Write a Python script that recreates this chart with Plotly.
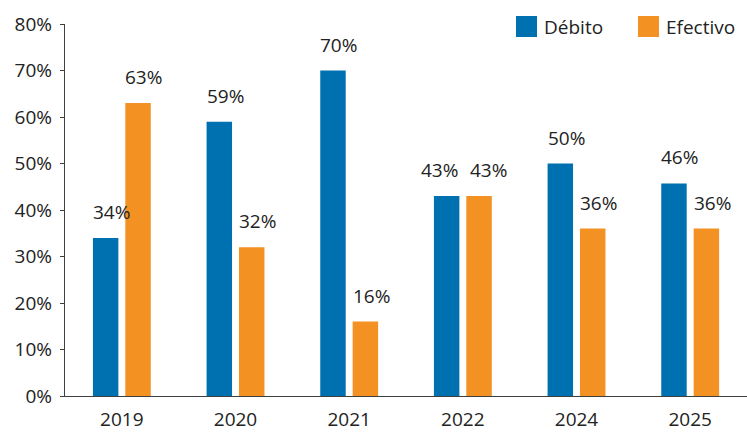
import plotly.graph_objects as go

years = ["2019", "2020", "2021", "2022", "2024", "2025"]
debito = [34, 59, 70, 43, 50, 46]
efectivo = [63, 32, 16, 43, 36, 36]
debito_bar = [34, 59, 70, 43, 50, 45.7]
efectivo_bar = [63, 32, 16, 43, 36, 36]
series_names = ["Débito", "Efectivo"]

BLUE = "#0071B0"
ORANGE = "#F39122"
TXT = "#222222"
FONT = "Open Sans"
FS = 19

xs = list(range(len(years)))
W = 0.224
OFF_B = -0.2544
OFF_O = 0.0307

fig = go.Figure()
fig.add_bar(x=xs, y=debito_bar, width=W, offset=OFF_B, marker=dict(color=BLUE, line=dict(width=0)),
            name=series_names[0], showlegend=False, hoverinfo="skip")
fig.add_bar(x=xs, y=efectivo_bar, width=W, offset=OFF_O, marker=dict(color=ORANGE, line=dict(width=0)),
            name=series_names[1], showlegend=False, hoverinfo="skip")

shift_b = {3: -13}
shift_o = {3: 4}
ann = []
for i in xs:
    ann.append(dict(x=i + OFF_B, y=debito_bar[i], text=f"{debito[i]}%", xref="x", yref="y",
                    xanchor="left", yanchor="middle", showarrow=False,
                    xshift=-2 + shift_b.get(i, 0), yshift=26,
                    font=dict(family=FONT, size=FS, color=TXT)))
    ann.append(dict(x=i + OFF_O, y=efectivo_bar[i], text=f"{efectivo[i]}%", xref="x", yref="y",
                    xanchor="left", yanchor="middle", showarrow=False,
                    xshift=-2 + shift_o.get(i, 0), yshift=26,
                    font=dict(family=FONT, size=FS, color=TXT)))

# manual legend (paper coordinates), pixel layout: plot x 65..747, y 24..396
PL, PW, PT, PH = 65, 682, 24, 372
def px(x):
    return (x - PL) / PW
def py(y):
    return 1 - (y - PT) / PH

shapes = []
for (x0, name, col) in [(516, series_names[0], BLUE), (638, series_names[1], ORANGE)]:
    shapes.append(dict(type="rect", xref="paper", yref="paper",
                       x0=px(x0), x1=px(x0 + 21), y0=py(37), y1=py(16),
                       fillcolor=col, line=dict(width=0)))
    ann.append(dict(x=px(x0 + 26), y=py(27), xref="paper", yref="paper", text=name,
                    xanchor="left", yanchor="middle", showarrow=False,
                    font=dict(family=FONT, size=FS, color=TXT)))

fig.update_layout(
    width=747, height=433,
    margin=dict(l=65, r=0, t=24, b=37),
    barmode="overlay",
    plot_bgcolor="white", paper_bgcolor="white",
    font=dict(family=FONT, size=FS, color=TXT),
    annotations=ann, shapes=shapes,
    showlegend=False,
)
fig.update_xaxes(range=[-0.5, 5.5], tickvals=xs, ticktext=years, showgrid=False, automargin=False,
                 showline=True, linecolor="#404040", linewidth=1.3, ticks="", zeroline=False,
                 ticklabelstandoff=6,
                 tickfont=dict(family=FONT, size=FS, color=TXT))
fig.update_yaxes(range=[0, 80], dtick=10, ticksuffix="%", showgrid=False, zeroline=False, automargin=False,
                 showline=True, linecolor="#404040", linewidth=1.3, ticks="outside", ticklen=4,
                 ticklabelstandoff=4,
                 tickcolor="#404040", tickfont=dict(family=FONT, size=FS, color=TXT))

fig.write_html("out.html", config={"displayModeBar": False},
               post_script="document.body.style.margin='0';document.body.style.overflow='hidden';")
